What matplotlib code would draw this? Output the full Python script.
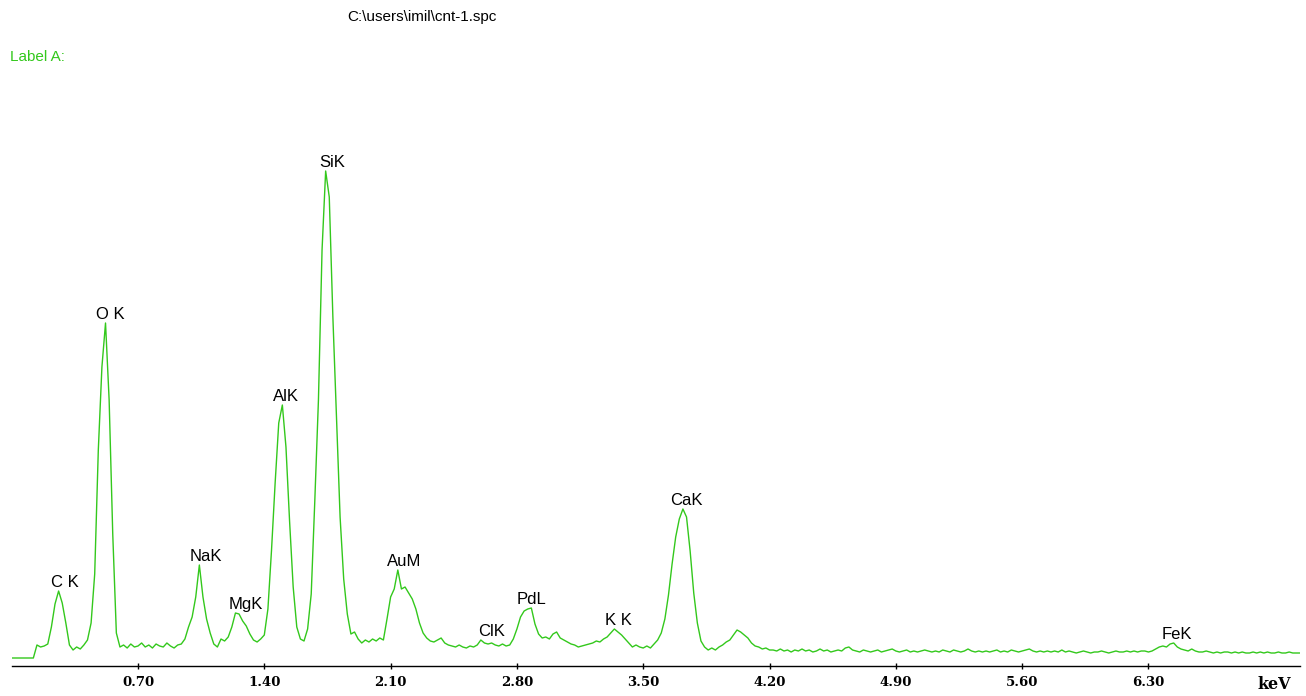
import numpy as np
import matplotlib.pyplot as plt

# EDS spectrum, 20 eV per channel starting at 0 keV (one row = 0.2 keV)
counts = [
    1, 1, 1, 1, 1, 1, 1, 14, 12, 13,              # 0.00
    15, 32, 55, 68, 56, 36, 14, 9, 12, 10,        # 0.20
    14, 19, 36, 85, 209, 292, 336, 259, 125, 26,  # 0.40
    12, 14, 11, 15, 12, 13, 16, 12, 14, 11,       # 0.60
    15, 13, 12, 16, 13, 11, 14, 15, 20, 32,       # 0.80
    42, 62, 94, 62, 40, 26, 15, 12, 20, 18,       # 1.00
    22, 32, 46, 45, 38, 33, 25, 19, 17, 20,       # 1.20
    24, 50, 109, 176, 236, 254, 212, 138, 72, 32,  # 1.40
    20, 18, 30, 65, 159, 259, 409, 488, 462, 342,  # 1.60
    242, 142, 80, 45, 25, 27, 20, 16, 19, 17,     # 1.80
    20, 18, 21, 19, 40, 62, 70, 89, 70, 72,       # 2.00
    66, 60, 50, 36, 26, 21, 18, 17, 19, 21,       # 2.20
    16, 14, 13, 12, 14, 12, 11, 13, 12, 14,       # 2.40
    19, 16, 15, 16, 14, 13, 15, 13, 14, 20,       # 2.60
    30, 42, 48, 50, 51, 35, 25, 21, 22, 20,       # 2.80
    25, 27, 21, 19, 17, 15, 14, 12, 13, 14,       # 3.00
    15, 16, 18, 17, 20, 22, 26, 30, 27, 24,       # 3.20
    20, 16, 12, 14, 12, 11, 13, 11, 15, 19,       # 3.40
    26, 40, 64, 95, 122, 140, 150, 142, 108, 66,  # 3.60
    36, 18, 12, 9, 11, 9, 12, 14, 17, 19,         # 3.80
    24, 29, 27, 24, 21, 16, 13, 12, 10, 11,       # 4.00
    9, 9, 8, 10, 8, 9, 7, 9, 8, 10,               # 4.20
    8, 9, 7, 8, 10, 8, 9, 7, 8, 9,                # 4.40
    8, 11, 12, 9, 8, 7, 9, 8, 7, 8,               # 4.60
    9, 7, 8, 9, 10, 8, 7, 8, 9, 7,                # 4.80
    8, 7, 8, 9, 8, 7, 8, 7, 9, 8,                 # 5.00
    7, 9, 8, 7, 8, 10, 8, 7, 8, 7,                # 5.20
    8, 7, 8, 9, 7, 8, 7, 9, 8, 7,                 # 5.40
    8, 9, 10, 8, 7, 8, 7, 8, 7, 8,                # 5.60
    7, 9, 7, 8, 7, 6, 7, 8, 7, 6,                 # 5.80
    7, 7, 8, 7, 6, 7, 8, 7, 7, 8,                 # 6.00
    7, 8, 7, 8, 8, 7, 8, 10, 12, 13,              # 6.20
    12, 15, 16, 12, 10, 9, 8, 10, 8, 7,           # 6.40
    7, 8, 7, 6, 7, 6, 7, 7, 6, 7,                 # 6.60
    6, 7, 6, 6, 7, 6, 7, 6, 7, 6,                 # 6.80
    6, 7, 6, 6, 7, 6, 6, 6,                       # 7.00
]
kev_step = 0.02

peak_names = ['C K', 'O K', 'NaK', 'MgK', 'AlK', 'SiK', 'AuM', 'ClK', 'PdL', 'K K', 'CaK', 'FeK']
line_kev = [0.277, 0.525, 1.041, 1.253, 1.486, 1.739, 2.120, 2.621, 2.838, 3.312, 3.690, 6.398]
label_dx = [3, 4, 6, 8, 6, 7, 10, 7, 8, 9, 9, 11]   # pixels right of the line energy

tick_kev = [0.70, 1.40, 2.10, 2.80, 3.50, 4.20, 4.90, 5.60, 6.30]

green = '#33c81c'
energy = np.arange(len(counts)) * kev_step
counts = np.array(counts)

fig = plt.figure(figsize=(13.06, 6.96), dpi=100)
ax = fig.add_axes([11.7 / 1306, 30 / 696, 1288.3 / 1306, 516 / 696])
ax.plot(energy, counts, color=green, lw=1.0)
ax.set_xlim(0, 7.14)
ax.set_ylim(-7, 509)

for s in ['top', 'right', 'left']:
    ax.spines[s].set_visible(False)
ax.spines['bottom'].set_linewidth(1.0)
ax.set_yticks([])

ax.set_xticks(tick_kev + [7.0])
ax.set_xticklabels(['%.2f' % t for t in tick_kev] + ['keV'],
                   fontfamily='DejaVu Serif', fontweight='bold', fontsize=9.5)
ax.get_xticklabels()[-1].set_fontsize(11.5)
ax.tick_params(axis='x', direction='inout', length=5, width=1, pad=5)
ax.xaxis.get_major_ticks()[-1].tick1line.set_visible(False)

for name, e, dx in zip(peak_names, line_kev, label_dx):
    win = (energy > e - 0.05) & (energy < e + 0.05)
    top = counts[win].max()
    ax.annotate(name, (e, top), xytext=(dx * 0.72, 3.0), textcoords='offset points',
                ha='center', va='baseline', fontsize=12, fontfamily='Liberation Sans')

fig.text(422 / 1306, 1 - 17 / 696, 'C:\\users\\imil\\cnt-1.spc', ha='center', va='center',
         fontsize=11, fontfamily='Liberation Sans')
fig.text(10 / 1306, 1 - 57 / 696, 'Label A:', ha='left', va='center', color=green,
         fontsize=11, fontfamily='Liberation Sans')

fig.savefig('out.png', dpi=100)
